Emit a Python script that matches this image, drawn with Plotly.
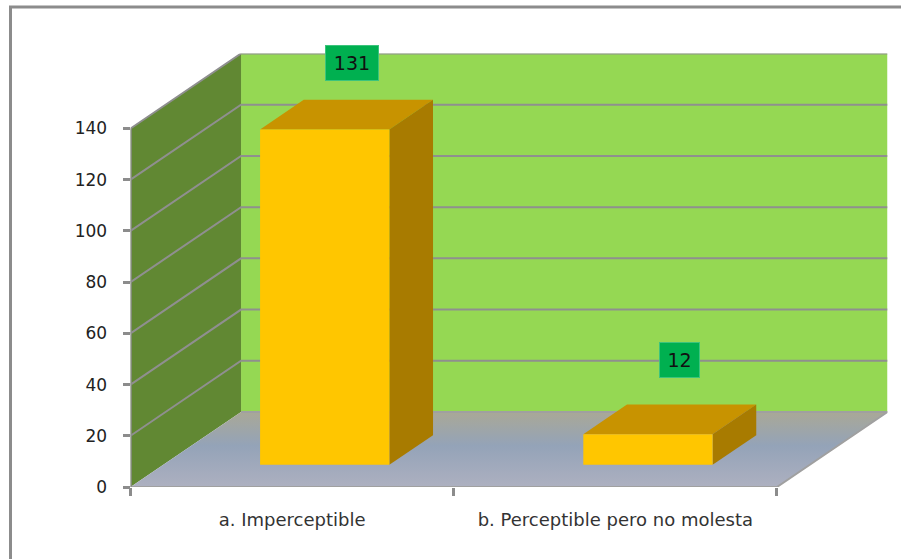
import plotly.graph_objects as go

# Chart data
categories = ["a. Imperceptible", "b. Perceptible pero no molesta"]
values = [131, 12]
value_ticks = [0, 20, 40, 60, 80, 100, 120, 140]

# Oblique projection: one unit of depth moves a point this far along each axis
DEPTH_X = 0.342
DEPTH_Y = 29.3
BAR_WIDTH = 0.4
BAR_DEPTH = (0.295, 0.69)
Y_MAX = value_ticks[-1]
N = len(categories)

WIDTH, HEIGHT = 901, 559
GRID = "#8f8f8f"
AXIS = "#8c8c8c"
FONT = "DejaVu Sans"


def project(x, y, d=0.0):
    return x + d * DEPTH_X, y + d * DEPTH_Y


def face(points, color):
    xy = [project(*p) for p in points]
    xy.append(xy[0])
    return go.Scatter(
        x=[p[0] for p in xy], y=[p[1] for p in xy],
        mode="lines", fill="toself", fillcolor=color,
        line=dict(width=0), hoverinfo="skip", cliponaxis=False,
    )


def line(points, color=GRID, width=2):
    xy = [project(*p) for p in points]
    return go.Scatter(
        x=[p[0] for p in xy], y=[p[1] for p in xy],
        mode="lines", line=dict(color=color, width=width),
        hoverinfo="skip", cliponaxis=False,
    )


fig = go.Figure()

# Back wall and left wall
fig.add_trace(face([(0, 0, 1), (N, 0, 1), (N, Y_MAX, 1), (0, Y_MAX, 1)], "#95d853"))
fig.add_trace(face([(0, 0, 0), (0, 0, 1), (0, Y_MAX, 1), (0, Y_MAX, 0)], "#618833"))

# Gridlines run along the left wall and across the back wall
for v in value_ticks[1:]:
    fig.add_trace(line([(0, v, 0), (0, v, 1), (N, v, 1)]))

# Floor with its vertical shading
floor = face([(0, 0, 0), (N, 0, 0), (N, 0, 1), (0, 0, 1)], "#9aa6ba")
floor.fillgradient = dict(
    type="vertical",
    colorscale=[[0, "#adb0c0"], [0.55, "#94a3b8"], [1, "#a9a897"]],
    start=0, stop=DEPTH_Y,
)
fig.add_trace(floor)
fig.add_trace(line([(0, 0, 1), (N, 0, 1), (N, 0, 0), (0, 0, 0)], "#a0a0a0", 2))

# Bars: top, side, then front face
d0, d1 = BAR_DEPTH
for i, v in enumerate(values):
    x0 = i + (1 - BAR_WIDTH) / 2
    x1 = x0 + BAR_WIDTH
    fig.add_trace(face([(x0, v, d0), (x1, v, d0), (x1, v, d1), (x0, v, d1)], "#c89300"))
    fig.add_trace(face([(x1, 0, d0), (x1, 0, d1), (x1, v, d1), (x1, v, d0)], "#a87b00"))
    fig.add_trace(face([(x0, 0, d0), (x1, 0, d0), (x1, v, d0), (x0, v, d0)], "#ffc600"))

# Value axis line stops at the top tick on the front plane
fig.add_trace(line([(0, 0, 0), (0, Y_MAX, 0)], AXIS, 2.5))

# Value labels sit above the middle of each bar's top face
label_offsets = [(5.5, 52), (10, 59)]
label_widths = [44, 31]
for i, v in enumerate(values):
    lx, ly = project(i + 0.5, v, (d0 + d1) / 2)
    fig.add_annotation(
        x=lx, y=ly, text=str(v), showarrow=False,
        xshift=label_offsets[i][0], yshift=label_offsets[i][1],
        font=dict(family=FONT, size=19, color="#111111"),
        bgcolor="#00b050", bordercolor="#3cc47c", borderwidth=1,
        borderpad=4, width=label_widths[i], height=26,
    )

fig.update_layout(
    width=WIDTH, height=HEIGHT,
    margin=dict(l=0, r=0, t=0, b=0),
    paper_bgcolor="white", plot_bgcolor="rgba(0,0,0,0)",
    showlegend=False,
    xaxis=dict(
        automargin=False,
        domain=[130.5 / WIDTH, 887.5 / WIDTH],
        range=[0, N + DEPTH_X],
        tickmode="array",
        tickvals=[i + 0.5 for i in range(N)],
        ticktext=categories,
        ticks="", ticklen=0,
        ticklabelstandoff=20,
        tickfont=dict(family=FONT, size=18, color="#333333"),
        minor=dict(tickmode="array", tickvals=list(range(N + 1)),
                   ticks="outside", ticklen=8, tickwidth=2.5, tickcolor=AXIS,
                   showgrid=False),
        showgrid=False, zeroline=False, showline=False,
    ),
    yaxis=dict(
        automargin=False,
        domain=[1 - 487 / HEIGHT, 1 - 53.5 / HEIGHT],
        range=[0, Y_MAX + DEPTH_Y],
        tickmode="array",
        tickvals=value_ticks,
        ticks="outside", ticklen=7, tickwidth=2.5, tickcolor=AXIS,
        ticklabelstandoff=12,
        tickfont=dict(family=FONT, size=17, color="#222222"),
        showgrid=False, zeroline=False, showline=False,
    ),
    shapes=[
        dict(type="line", xref="paper", yref="paper", x0=10.5 / WIDTH, x1=10.5 / WIDTH,
             y0=0, y1=1 - 7 / HEIGHT, line=dict(color=AXIS, width=3)),
        dict(type="line", xref="paper", yref="paper", x0=9 / WIDTH, x1=1,
             y0=1 - 7 / HEIGHT, y1=1 - 7 / HEIGHT, line=dict(color=AXIS, width=3)),
    ],
)

fig.write_html("out.html", config=dict(displayModeBar=False))
